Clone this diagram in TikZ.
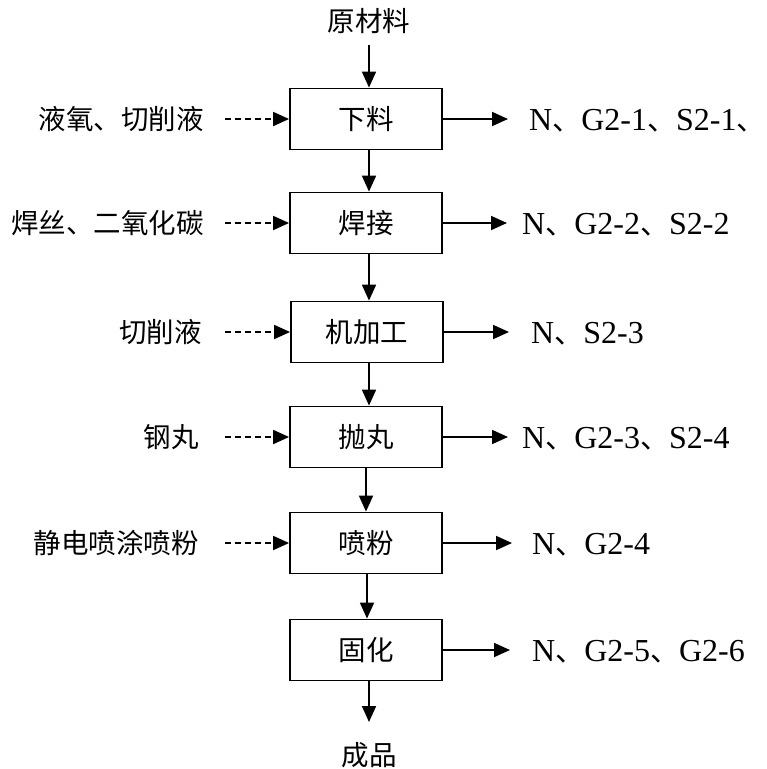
\documentclass[tikz,border=0pt]{standalone}
\usepackage{fontspec}
\setmainfont{Liberation Serif}
\newfontfamily\cjk{Noto Sans CJK SC}
\usetikzlibrary{arrows.meta}
\newcommand{\dn}{{\cjk\fontsize{29}{32}\selectfont 、}}
\begin{document}
\begin{tikzpicture}[x=1pt,y=-1pt,
  procbox/.style={draw,line width=1.8pt,minimum width=152pt,minimum height=61pt,inner sep=0pt,font=\cjk\fontsize{27.5}{30}\selectfont},
  cjklabel/.style={inner sep=0pt,font=\cjk\fontsize{27.5}{30}\selectfont},
  outlabel/.style={inner sep=0pt,anchor=west,font=\fontsize{32}{36}\selectfont},
  flow/.style={line width=1.8pt,-{Triangle[length=16pt,width=14pt]}},
  feed/.style={line width=1.8pt,dash pattern=on 6pt off 4pt,-{Triangle[length=16pt,width=14pt]}}]
\useasboundingbox (0,0) rectangle (767,769);
% process boxes
\node[procbox] (b1) at (366,119) {下料};
\node[procbox] (b2) at (366,223) {焊接};
\node[procbox] (b3) at (367,332) {机加工};
\node[procbox] (b4) at (366,437) {抛丸};
\node[procbox] (b5) at (366,543) {喷粉};
\node[procbox] (b6) at (366,650) {固化};
% top and bottom
\node[cjklabel] (raw) at (369,21) {原材料};
\coordinate (rawend) at (369,45);
\node[cjklabel] (prod) at (369,755) {成品};
\coordinate (prodstart) at (369,722);
\draw[flow] (rawend) -- (rawend |- b1.north);
\draw[flow] (b1.south -| rawend) -- (b2.north -| rawend);
\draw[flow] (b2.south -| rawend) -- (b3.north -| rawend);
\draw[flow] (b3.south -| rawend) -- (b4.north -| rawend);
\draw[flow] (b4.south) -- (b5.north);
\draw[flow] (b5.south -| 367,0) -- (b6.north -| 367,0);
\draw[flow] (b6.south -| rawend) -- (prodstart);
% inputs (left)
\node[cjklabel,anchor=east] (in1) at (204,119) {液氧、切削液};
\node[cjklabel,anchor=east] (in2) at (204,223) {焊丝、二氧化碳};
\node[cjklabel,anchor=east] (in3) at (202,332) {切削液};
\node[cjklabel,anchor=east] (in4) at (199,437) {钢丸};
\node[cjklabel,anchor=east] (in5) at (199,543) {静电喷涂喷粉};
\coordinate (f1) at (225,119);
\coordinate (f2) at (225,223);
\coordinate (f3) at (225,332);
\coordinate (f4) at (225,437);
\coordinate (f5) at (225,543);
\draw[feed] (f1) -- (b1.west);
\draw[feed] (f2) -- (b2.west);
\draw[feed] (f3) -- (b3.west);
\draw[feed] (f4) -- (b4.west);
\draw[feed] (f5) -- (b5.west);
% outputs (right)
\node[outlabel] (o1) at (529,121) {N\dn G2-1\dn S2-1\dn};
\node[outlabel] (o2) at (522,225) {N\dn G2-2\dn S2-2};
\node[outlabel] (o3) at (531,334) {N\dn S2-3};
\node[outlabel] (o4) at (522,439) {N\dn G2-3\dn S2-4};
\node[outlabel] (o5) at (532,545) {N\dn G2-4};
\node[outlabel] (o6) at (532,652) {N\dn G2-5\dn G2-6};
\draw[flow] (b1.east) -- (508,119);
\draw[flow] (b2.east) -- (507,223);
\draw[flow] (b3.east) -- (509,332);
\draw[flow] (b4.east) -- (508,437);
\draw[flow] (b5.east) -- (512,543);
\draw[flow] (b6.east) -- (510,650);
\end{tikzpicture}
\end{document}
